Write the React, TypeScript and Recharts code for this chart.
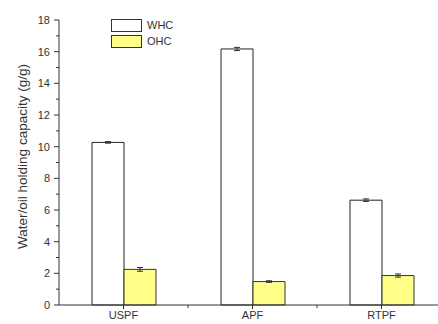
import { Bar, BarChart, ErrorBar, Legend, XAxis, YAxis } from "recharts";

const samples = ["USPF", "APF", "RTPF"];
const whc = [10.27, 16.17, 6.62];
const whcErr = [0.05, 0.1, 0.08];
const ohc = [2.25, 1.48, 1.86];
const ohcErr = [0.12, 0.05, 0.1];
const seriesOrder = ["WHC", "OHC"];
const yTicks = [0, 1, 2, 3, 4, 5, 6, 7, 8, 9, 10, 11, 12, 13, 14, 15, 16, 17, 18];

const data = samples.map((name, i) => ({
  name,
  whc: whc[i],
  whcErr: whcErr[i],
  ohc: ohc[i],
  ohcErr: ohcErr[i],
}));

const FONT = "Arial, 'Liberation Sans', sans-serif";
const AXIS = "#333333";

function YTick(props: any) {
  const { x, y, payload } = props;
  const major = payload.value % 2 === 0;
  return (
    <g>
      <line x1={x - (major ? 5 : 3)} x2={x} y1={y} y2={y} stroke={AXIS} />
      {major && (
        <text
          x={x - 9}
          y={y}
          dy={4}
          textAnchor="end"
          fontSize={11}
          fontFamily={FONT}
          fill={AXIS}
        >
          {payload.value}
        </text>
      )}
    </g>
  );
}

function XTick(props: any) {
  const { x, y, payload, index } = props;
  const half = payload.offset ?? 64.5;
  return (
    <g>
      <line x1={x} x2={x} y1={y} y2={y + 4} stroke={AXIS} />
      {index > 0 && (
        <line x1={x - half} x2={x - half} y1={y} y2={y + 3} stroke={AXIS} />
      )}
      <text
        x={x}
        y={y}
        dy={14}
        textAnchor="middle"
        fontSize={11}
        fontFamily={FONT}
        fill={AXIS}
      >
        {payload.value}
      </text>
    </g>
  );
}

function LegendBox(props: any) {
  const items = [...(props.payload ?? [])].sort(
    (a: any, b: any) => seriesOrder.indexOf(a.value) - seriesOrder.indexOf(b.value)
  );
  return (
    <div style={{ fontFamily: FONT, fontSize: 11, color: AXIS }}>
      {items.map((item: any) => (
        <div
          key={item.value}
          style={{ display: "flex", alignItems: "center", height: 16 }}
        >
          <span
            style={{
              display: "inline-block",
              width: 29,
              height: 11,
              border: "1px solid #333",
              background: item.payload?.fill ?? item.color,
              marginRight: 5,
            }}
          />
          {item.value}
        </div>
      ))}
    </div>
  );
}

function AxisTitle(props: any) {
  const { viewBox } = props;
  const cx = viewBox.x + 22;
  const cy = viewBox.y + viewBox.height / 2 - 6;
  return (
    <text
      x={cx}
      y={cy}
      transform={`rotate(-90, ${cx}, ${cy})`}
      textAnchor="middle"
      dominantBaseline="central"
      fontSize={13.5}
      fontFamily={FONT}
      fill={AXIS}
    >
      Water/oil holding capacity (g/g)
    </text>
  );
}

export default function App() {
  return (
    <div
      style={{
        position: "absolute",
        left: 0,
        top: 0,
        width: 438,
        height: 324,
        overflow: "hidden",
        background: "#fff",
      }}
    >
      <BarChart
        width={450}
        height={324}
        data={data}
        barGap={0}
        barSize={32}
        margin={{ top: 20, right: 4, bottom: 0, left: 0 }}
      >
        <XAxis
          dataKey="name"
          height={19}
          tickSize={0}
          tickMargin={0}
          tick={<XTick />}
          axisLine={{ stroke: AXIS }}
          interval={0}
        />
        <YAxis
          width={59}
          domain={[0, 18]}
          ticks={yTicks}
          interval={0}
          tickSize={0}
          tickMargin={0}
          tick={<YTick />}
          axisLine={{ stroke: AXIS }}
          label={<AxisTitle />}
        />
        <Legend
          layout="vertical"
          align="center"
          verticalAlign="middle"
          content={<LegendBox />}
          wrapperStyle={{ left: 111, top: 17, width: 80, height: 34 }}
        />
        <Bar
          dataKey="whc"
          name="WHC"
          fill="#ffffff"
          stroke="#222222"
          strokeWidth={1}
          isAnimationActive={false}
        >
          <ErrorBar
            dataKey="whcErr"
            width={3}
            stroke="#333333"
            strokeWidth={1}
            isAnimationActive={false}
          />
        </Bar>
        <Bar
          dataKey="ohc"
          name="OHC"
          fill="#ffff88"
          stroke="#333333"
          strokeWidth={1}
          isAnimationActive={false}
        >
          <ErrorBar
            dataKey="ohcErr"
            width={3}
            stroke="#333333"
            strokeWidth={1}
            isAnimationActive={false}
          />
        </Bar>
      </BarChart>
    </div>
  );
}
